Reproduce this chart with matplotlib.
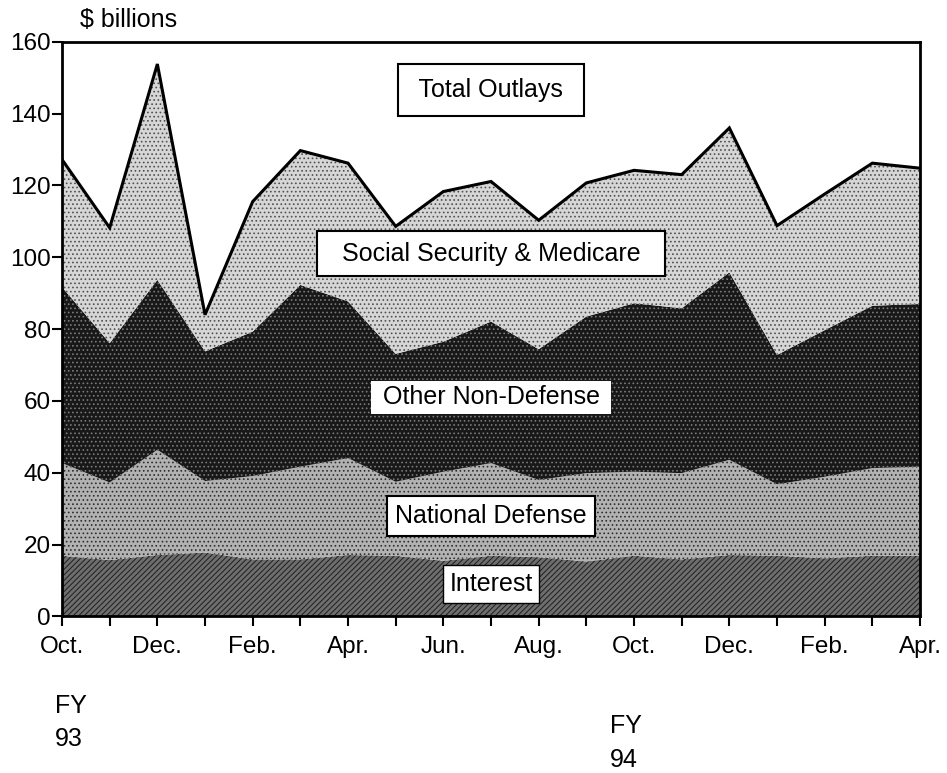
import numpy as np
import matplotlib.pyplot as plt

plt.rcParams['font.family'] = ['Liberation Sans', 'DejaVu Sans']
plt.rcParams['hatch.linewidth'] = 0.7

# Monthly outlays, $ billions (Oct FY93 .. Apr FY94)
months = ["Oct.", "Nov.", "Dec.", "Jan.", "Feb.", "Mar.", "Apr.", "May", "Jun.",
          "Jul.", "Aug.", "Sep.", "Oct.", "Nov.", "Dec.", "Jan.", "Feb.", "Mar.", "Apr."]
interest = [16.9, 15.7, 17.1, 17.8, 15.9, 15.9, 17.1, 16.9, 15.5, 16.9,
            16.5, 15.3, 16.9, 15.9, 17.1, 16.9, 16.2, 16.9, 16.9]
defense = [25.8, 21.6, 29.3, 19.9, 23.2, 25.8, 27.0, 20.6, 24.8, 25.8,
           21.5, 24.6, 23.4, 24.0, 26.5, 19.9, 22.7, 24.4, 24.8]
other_nondef = [49.0, 38.8, 47.3, 36.1, 40.2, 50.6, 43.6, 35.6, 36.2, 39.4,
                36.4, 43.6, 46.9, 45.9, 52.2, 36.0, 40.8, 45.2, 45.3]
ss_medicare = [35.5, 32.1, 60.1, 10.2, 36.2, 37.4, 38.5, 35.5, 41.8, 39.0,
               35.9, 37.2, 37.0, 37.2, 40.2, 36.0, 37.9, 39.7, 37.8]

x = np.arange(len(months))
layers = [interest, defense, other_nondef, ss_medicare]
styles = [
    dict(facecolor="#6e6e6e", edgecolor="#1e1e1e", hatch="//////"),
    dict(facecolor="#b2b2b2", edgecolor="#2e2e2e", hatch="...."),
    dict(facecolor="#181818", edgecolor="#7a7a7a", hatch="...."),
    dict(facecolor="#d6d6d6", edgecolor="#505050", hatch="...."),
]

fig = plt.figure(figsize=(9.47, 7.73), dpi=100)
ax = fig.add_axes([0.0655, 0.2025, 0.906, 0.7435])

bottom = np.zeros(len(x))
for vals, st in zip(layers, styles):
    top = bottom + np.array(vals)
    ax.fill_between(x, bottom, top, linewidth=0, **st)
    bottom = top

total = bottom
ax.plot(x, total, color="black", lw=2.2, solid_joinstyle="miter")

ax.set_xlim(0, len(x) - 1)
ax.set_ylim(0, 160)
ax.set_yticks(range(0, 161, 20))
ax.set_xticks(x)
ax.set_xticklabels([m if i % 2 == 0 else "" for i, m in enumerate(months)])
ax.tick_params(axis="both", direction="out", length=7, width=1.5, labelsize=17.5)
ax.tick_params(axis="x", pad=7)
ax.tick_params(axis="y", pad=1)
for s in ax.spines.values():
    s.set_linewidth(2)

# series labels
labels = [
    (" Total Outlays ", 146.5, 0.55, 1.5),
    ("  Social Security & Medicare  ", 101, 0.42, 1.5),
    (" Other Non-Defense ", 61, 0.18, 0),
    ("National Defense", 28, 0.33, 1.5),
    ("Interest", 9, 0.27, 1),
]
for txt, yv, pad, lw in labels:
    ax.text(9, yv, txt, ha="center", va="center", fontsize=18,
            bbox=dict(boxstyle="square,pad=%s" % pad, facecolor="white",
                      edgecolor="black", linewidth=lw))

fig.text(0.084, 0.974, "$ billions", fontsize=18, va="center")
fig.text(0.058, 0.0867, "FY", fontsize=18, va="center")
fig.text(0.058, 0.044, "93", fontsize=18, va="center")
fig.text(0.644, 0.0608, "FY", fontsize=18, va="center")
fig.text(0.644, 0.0168, "94", fontsize=18, va="center")

fig.savefig("out.png", dpi=100)
